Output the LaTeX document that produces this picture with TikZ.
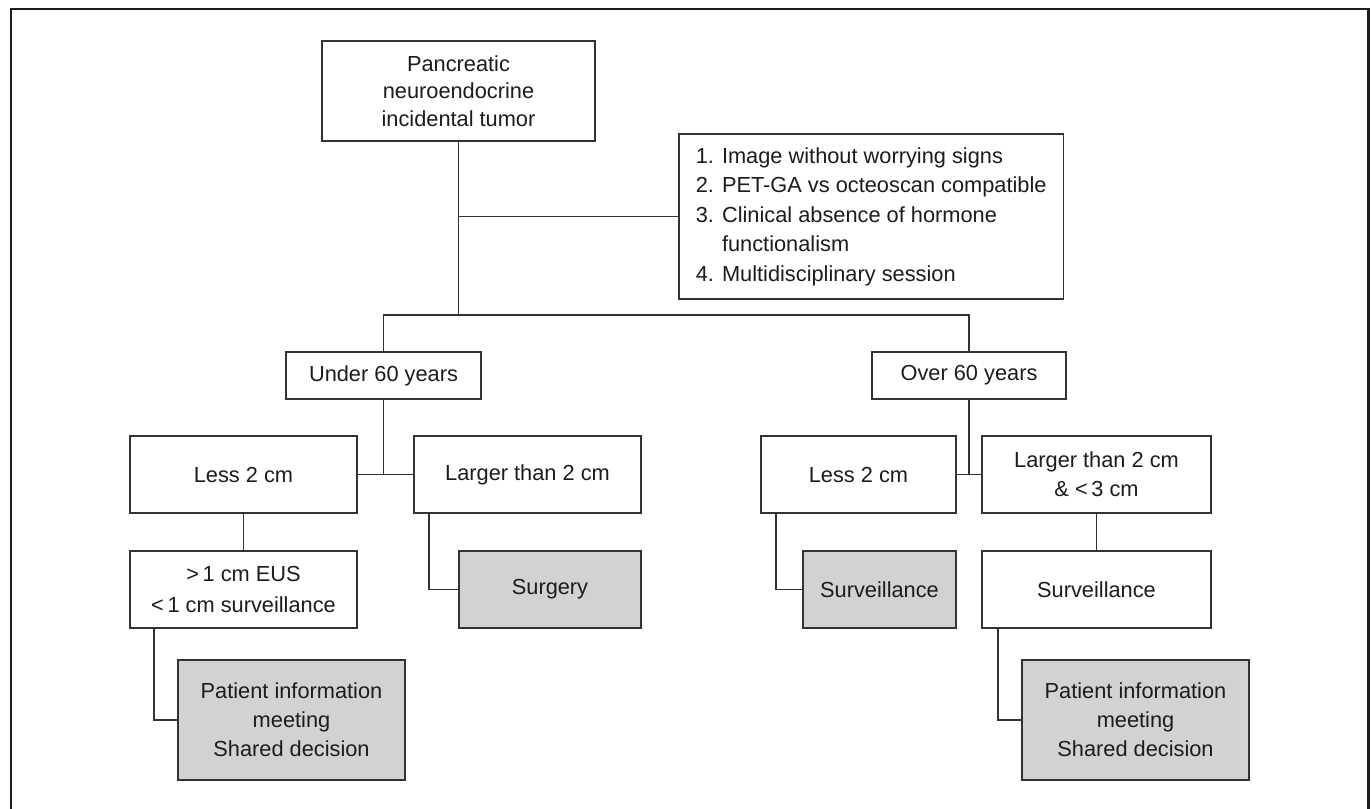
\documentclass[tikz,border=0pt]{standalone}
\usepackage{fontspec}
\setmainfont{Liberation Sans}
\definecolor{ink}{HTML}{1E1B1C}
\definecolor{rule}{HTML}{333333}
\definecolor{shade}{HTML}{D1D2D4}
\tikzset{
  box/.style={draw=rule, line width=0.9pt, fill=white, text=ink, align=center, inner sep=0pt,
    font=\fontsize{12.4}{16.5}\selectfont},
  result/.style={box, fill=shade},
  link/.style={draw=rule, line width=0.9pt},
}
\begin{document}
\begin{tikzpicture}[x=0.02cm, y=-0.02cm]
% 1 unit = 1 px of the 1371 x 808 page
\useasboundingbox (0,0) rectangle (1371,808);
% frame, open at the bottom
\draw[line width=1.7pt, draw=ink] (11,812) -- (11,9) -- (1368,9) -- (1368,812);
% top
\node[box, minimum width=5.46cm, minimum height=2cm, font=\fontsize{12.4}{15.6}\selectfont] (tumor) at (458.5,91) {Pancreatic\\neuroendocrine\\incidental tumor};
\node[box, anchor=west, align=left, inner xsep=0.34cm, minimum height=3.3cm, font=\fontsize{12.4}{16.8}\selectfont] (signs) at (678,216.5)
  {1. Image without worrying signs\\2. PET-GA vs octeoscan compatible\\3. Clinical absence of hormone\\\hphantom{3. }functionalism\\4. Multidisciplinary session};
% age
\node[box, minimum width=3.9cm, minimum height=0.94cm] (under) at (383.5,375.5) {Under 60 years};
\node[box, minimum width=3.88cm, minimum height=0.94cm] (over) at (969,375.5) {Over 60 years};
% size
\node[box, minimum width=4.54cm, minimum height=1.54cm] (lessU) at (243.5,474.5) {Less 2 cm};
\node[box, minimum width=4.54cm, minimum height=1.54cm] (largerU) at (527.5,474.5) {Larger than 2 cm};
\node[box, minimum width=3.9cm, minimum height=1.54cm] (lessO) at (858.5,474.5) {Less 2 cm};
\node[box, minimum width=4.58cm, minimum height=1.54cm] (largerO) at (1096.5,474.5) {Larger than 2 cm\\\& <\,3 cm};
% follow-up
\node[box, minimum width=4.54cm, minimum height=1.54cm, font=\fontsize{12.4}{17.6}\selectfont] (eus) at (243.5,589.5) {>\,1 cm EUS\\<\,1 cm surveillance};
\node[result, minimum width=3.64cm, minimum height=1.54cm] (surgery) at (550,589.5) {Surgery};
\node[result, minimum width=3.06cm, minimum height=1.54cm] (watchO) at (879.5,589.5) {Surveillance};
\node[box, minimum width=4.58cm, minimum height=1.54cm] (watchL) at (1096.5,589.5) {Surveillance};
% decision
\node[result, minimum width=4.54cm, minimum height=2.4cm] (infoU) at (291.5,720) {Patient information\\meeting\\Shared decision};
\node[result, minimum width=4.54cm, minimum height=2.4cm] (infoO) at (1135.5,720) {Patient information\\meeting\\Shared decision};
% connectors
\coordinate (fork) at (458.5,315);
\draw[link] (tumor.south) -- (fork);
\draw[link] (tumor.south |- signs.west) -- (signs.west);
\draw[link] (under.north) |- (fork) -| (over.north);
\draw[link] (under.south) -- (under.south |- lessU.east);
\draw[link] (lessU.east) -- (largerU.west);
\draw[link] (over.south) -- (over.south |- lessO.east);
\draw[link] (lessO.east) -- (largerO.west);
\draw[link] (lessU) -- (eus);
\draw[link] (largerO) -- (watchL);
% 0.32cm = 16 px in from the left side
\draw[link] ([xshift=0.32cm]largerU.south west) |- (surgery.west);
\draw[link] ([xshift=0.5cm]eus.south west) |- (infoU.west);
\draw[link] ([xshift=0.32cm]lessO.south west) |- (watchO.west);
\draw[link] ([xshift=0.34cm]watchL.south west) |- (infoO.west);
\end{tikzpicture}
\end{document}
